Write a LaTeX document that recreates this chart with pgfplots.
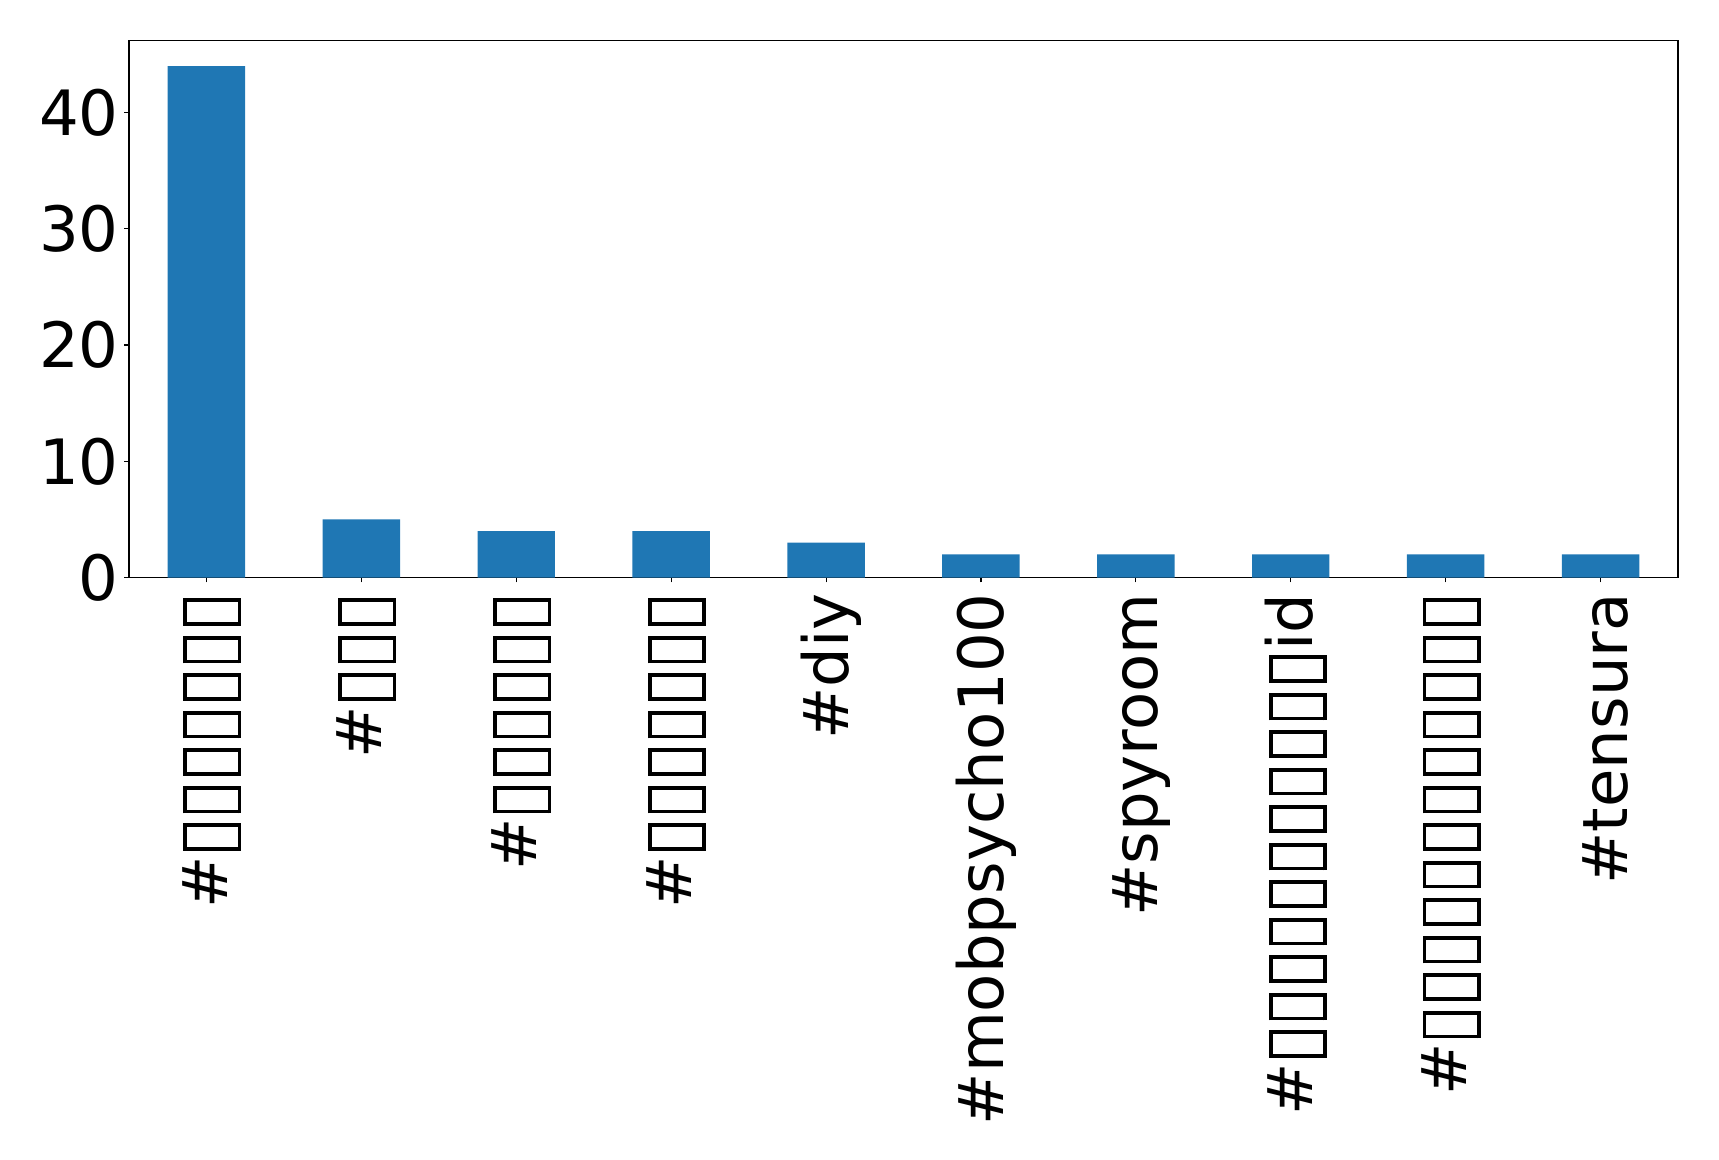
\documentclass[border=0pt]{standalone}
\usepackage{fontspec}
\setmainfont{DejaVu Sans}
\usepackage{pgfplots}
\pgfplotsset{compat=1.18}
\definecolor{mplblue}{HTML}{1F77B4}
\newcommand\tofu{\kern0.08em\raisebox{-0.17em}{\setlength\fboxsep{0pt}\setlength\fboxrule{0.06em}\fbox{\rule{0pt}{0.81em}\rule{0.32em}{0pt}}}\kern0.08em}
\begin{document}
\begin{tikzpicture}
\path[use as bounding box] (-64.5pt,-291.25pt) rectangle (795pt,288.75pt);
\begin{axis}[
  at={(0pt,0pt)}, anchor=south west,
  scale only axis,
  width=774.5pt, height=268.5pt,
  xmin=-0.5, xmax=9.5, ymin=0, ymax=46.2,
  ybar, bar width=0.5, bar shift=0pt,
  axis line style={line width=0.56pt},
  tick style={line width=0.56pt, black},
  tick align=outside,
  major tick length=2.43pt,
  xtick={0,...,9},
  ytick={0,10,20,30,40},
  xtick pos=bottom, ytick pos=left,
  /pgf/number format/assume math mode=true,
  ticklabel style={font=\fontsize{31.25}{37}\selectfont},
  xticklabel style={rotate=90, anchor=east, inner sep=0pt, xshift=-5.3pt, yshift=-2.7pt},
  yticklabel style={inner sep=0pt, xshift=-2.6pt},
  xticklabels={{\#\tofu\tofu\tofu\tofu\tofu\tofu\tofu},{\#\tofu\tofu\tofu},{\#\tofu\tofu\tofu\tofu\tofu\tofu},{\#\tofu\tofu\tofu\tofu\tofu\tofu\tofu},{\#diy},{\#mobpsycho100},{\#spyroom},{\#\tofu\tofu\tofu\tofu\tofu\tofu\tofu\tofu\tofu\tofu\tofu id},{\#\tofu\tofu\tofu\tofu\tofu\tofu\tofu\tofu\tofu\tofu\tofu\tofu},{\#tensura}},
]
\addplot[fill=mplblue, draw=none] coordinates {(0,44) (1,5) (2,4) (3,4) (4,3) (5,2) (6,2) (7,2) (8,2) (9,2)};
\end{axis}
\end{tikzpicture}
\end{document}
